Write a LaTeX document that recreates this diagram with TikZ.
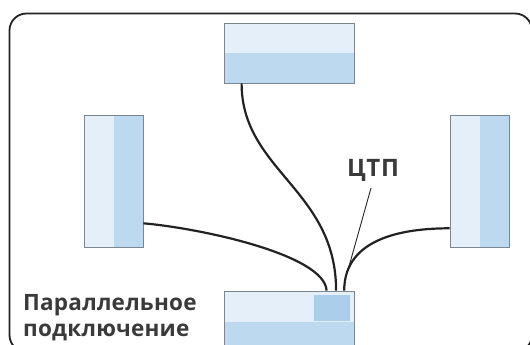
\documentclass[tikz,border=0pt]{standalone}
\usepackage{fontspec}
\setmainfont{Open Sans}
\newfontfamily\labelfont{Open Sans}[LetterSpace=1]
\usepackage{xcolor}
\usetikzlibrary{positioning}

\definecolor{paleblue}{HTML}{E5EFF9}
\definecolor{midblue}{HTML}{BDD9F0}
\definecolor{portblue}{HTML}{ABCFEB}
\definecolor{edgegray}{HTML}{7D858E}
\definecolor{cablegray}{HTML}{222222}
\definecolor{textgray}{HTML}{3A3A3A}

\begin{document}
\begin{tikzpicture}[
  x=1pt, y=-1pt,
  font=\labelfont\fontsize{22.5}{26}\selectfont\bfseries,
  unit/.style={draw=edgegray, line width=0.8pt, inner sep=0pt},
  hsplit/.style={unit, path picture={
    \fill[paleblue] (path picture bounding box.north west) rectangle (path picture bounding box.east);
    \fill[midblue] (path picture bounding box.west) rectangle (path picture bounding box.south east);}},
  vsplit/.style={unit, path picture={
    \fill[paleblue] (path picture bounding box.north west) rectangle (path picture bounding box.south);
    \fill[midblue] (path picture bounding box.north) rectangle (path picture bounding box.south east);}},
  cable/.style={draw=cablegray, line width=2.2pt},
  pointer/.style={draw=cablegray, line width=0.9pt},
  frame/.style={draw=cablegray, line width=1.8pt, rounded corners=17pt},
  label/.style={text=textgray, inner sep=0pt}
]
\useasboundingbox (0,0) rectangle (530,345);
\clip (0,0) rectangle (530,345);
\draw[frame] (9.5,13.5) rectangle (532,352);

\node[hsplit, minimum width=130pt, minimum height=59.4pt] (unitTop) at (289,53.3) {};
\node[vsplit, minimum width=59pt, minimum height=132pt] (unitLeft) at (113.5,181.5) {};
\node[vsplit, minimum width=59.5pt, minimum height=132pt] (unitRight) at (479.75,181.5) {};
\node[hsplit, minimum width=130pt, minimum height=61pt] (ctp) at (289,321.5) {};
\node[fill=portblue, minimum width=36pt, minimum height=26.6pt, inner sep=0pt, anchor=north east]
  (ctpPort) at ([xshift=-4pt,yshift=-4pt]ctp.north east) {};

\draw[cable] ([xshift=18pt]unitTop.south west) .. controls +(0,87) and +(0,-101) .. ([xshift=112.5pt]ctp.north west);
\draw[cable] ([yshift=24.6pt]unitLeft.south east) .. controls +(57,5) and +(-2,-36) .. ([xshift=103pt]ctp.north west);
\draw[cable] ([yshift=19.6pt]unitRight.south west) .. controls +(-60,0) and +(0,-46) .. ([xshift=120.6pt]ctp.north west);

\node[label, anchor=base, font=\labelfont\addfontfeature{LetterSpace=3}\fontsize{24}{26}\selectfont\bfseries]
  (ctpLabel) at (373,176) {ЦТП};
\coordinate (tap) at (348,270);
\draw[pointer] ([xshift=-2pt,yshift=-12pt]ctpLabel.base) -- (tap);

\node[label, align=left, anchor=north west] (mode) at (23,294) {Параллельное\\подключение};
\end{tikzpicture}
\end{document}
